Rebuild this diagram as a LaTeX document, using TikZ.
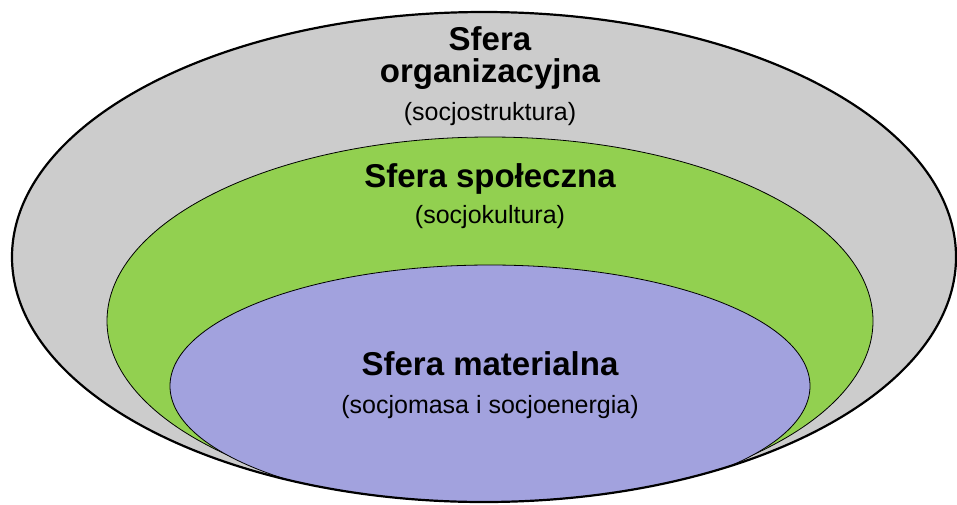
\documentclass[tikz,border=0pt]{standalone}
\usepackage{fontspec}
\setmainfont{Liberation Sans}
\definecolor{orggray}{HTML}{CCCCCC}
\definecolor{spolgreen}{HTML}{92D050}
\definecolor{matblue}{HTML}{A2A2DE}
\begin{document}
\begin{tikzpicture}
[x=1pt, y=-1pt,
 nodes={anchor=base, align=center},
 title/.style={font=\bfseries\fontsize{33}{32}\selectfont},
 sub/.style={font=\fontsize{25}{28}\selectfont}]
\useasboundingbox (0,0) rectangle (957,504);
\fill [orggray] (484,257) ellipse [x radius=472pt, y radius=245pt];
\begin{scope}
\clip (484,257) ellipse [x radius=472pt, y radius=245pt];
\filldraw [fill=spolgreen, draw=black, line width=0.8pt] (490,321) ellipse [x radius=383pt, y radius=184pt];
\filldraw [fill=matblue, draw=black, line width=0.8pt] (490,386) ellipse [x radius=320pt, y radius=121pt];
\end{scope}
\draw [line width=2.2pt] (484,257) ellipse [x radius=472pt, y radius=245pt];

\node (orgtitle) [title] at (490,82) {Sfera\\organizacyjna};
\node (orgsub) [sub] at (490,120) {(socjostruktura)};
\node (spoltitle) [title] at (490,187) {Sfera społeczna};
\node (spolsub) [sub] at (490,223) {(socjokultura)};
\node (mattitle) [title] at (490,375) {Sfera materialna};
\node (matsub) [sub] at (490,413) {(socjomasa i socjoenergia)};
\end{tikzpicture}
\end{document}
